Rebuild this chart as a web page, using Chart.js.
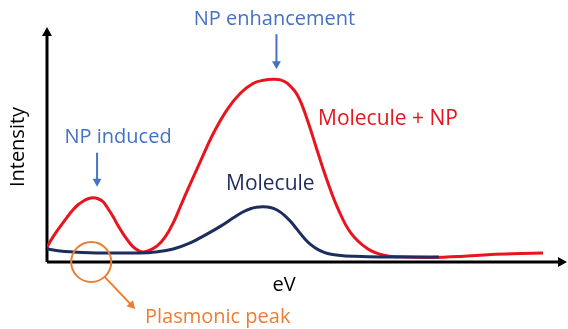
<!DOCTYPE html>
<html>
<head>
<meta charset="utf-8">
<script src="https://cdn.jsdelivr.net/npm/chart.js@4.4.1/dist/chart.umd.min.js"></script>
<style>
  html, body { margin: 0; padding: 0; background: #fff; }
  #wrap { width: 568px; height: 329px; position: relative; }
</style>
</head>
<body>
<div id="wrap"><canvas id="spectrum"></canvas></div>
<script>
// Energy axis (arbitrary units, 0-100) and intensity values for each trace
const energyNP = [0, 1.16, 2.5, 3.85, 5.01, 5.97, 6.94, 7.9, 8.86, 9.83, 10.79, 11.75, 12.72, 13.68, 14.64, 15.61, 16.57, 17.53, 18.5, 19.85, 21.19, 22.74, 24.28, 25.63, 26.97, 29.48, 31.98, 34.68, 37.19, 39.69, 41.62, 43.55, 44.89, 46.24, 48.17, 50.1, 52.02, 53.95, 55.88, 58.38, 61.66, 64.74, 68.02, 73.8, 79.58, 85.36, 91.14, 95.38];
const intensityNP = [6.41, 10.68, 14.96, 19.02, 22.22, 24.36, 25.85, 26.92, 27.35, 26.92, 25.64, 22.65, 19.23, 15.38, 11.97, 8.97, 6.41, 4.91, 4.27, 5.13, 6.84, 10.68, 16.67, 23.5, 30.34, 42.74, 54.7, 64.96, 71.79, 76.07, 77.35, 77.78, 77.48, 75.98, 70.94, 60.26, 47.01, 34.19, 23.08, 12.52, 5.6, 2.86, 2.22, 1.92, 2.35, 3.21, 3.63, 3.85];

const energyMol = [0, 2.5, 5.01, 8.29, 11.56, 17.92, 20.81, 24.28, 27.55, 30.83, 33.33, 35.84, 37.57, 39.11, 40.27, 41.62, 42.97, 44.32, 45.66, 46.82, 48.17, 49.52, 50.67, 52.22, 53.95, 56.45, 58.96, 64.16, 75.34];
const intensityMol = [5.56, 4.7, 4.27, 3.93, 3.85, 3.85, 4.27, 5.56, 8.12, 11.97, 15.17, 18.8, 21.15, 22.65, 23.29, 23.5, 23.16, 22.01, 19.87, 17.31, 13.68, 10.04, 7.48, 5.13, 3.63, 2.78, 2.44, 2.14, 2.14];

const seriesLabels = ['Molecule + NP', 'Molecule'];
const axisLabels = ['eV', 'Intensity'];
const noteLabels = ['NP enhancement', 'NP induced', 'Plasmonic peak'];

// peaks the blue arrows point at (x on the energy axis)
const enhancedPeak = 43.55;
const inducedPeak = 8.86;
const plasmonPos = 8.5;

const RED = 'rgb(232, 20, 30)';
const NAVY = '#1c2d5e';
const BLUE = '#4472c4';
const ORANGE = '#ed7d31';
const FONT = '"Open Sans", sans-serif';

const toPoints = (xs, ys) => xs.map((x, i) => ({ x: x, y: ys[i] }));

function arrowHead(ctx, x, y, angle, size) {
  ctx.save();
  ctx.translate(x, y);
  ctx.rotate(angle);
  ctx.beginPath();
  ctx.moveTo(0, 0);
  ctx.lineTo(-size, -size * 0.55);
  ctx.lineTo(-size, size * 0.55);
  ctx.closePath();
  ctx.fill();
  ctx.restore();
}

function arrow(ctx, x1, y1, x2, y2, color, width, head) {
  const a = Math.atan2(y2 - y1, x2 - x1);
  ctx.strokeStyle = color;
  ctx.fillStyle = color;
  ctx.lineWidth = width;
  ctx.beginPath();
  ctx.moveTo(x1, y1);
  ctx.lineTo(x2 - Math.cos(a) * head * 0.8, y2 - Math.sin(a) * head * 0.8);
  ctx.stroke();
  arrowHead(ctx, x2, y2, a, head);
}

// black axes with arrow tips, drawn under the curves
const axesPlugin = {
  id: 'axes',
  beforeDatasetsDraw(chart) {
    const { ctx, chartArea } = chart;
    ctx.save();
    arrow(ctx, chartArea.left, chartArea.bottom, chartArea.right, chartArea.bottom, '#000', 3, 9);
    arrow(ctx, chartArea.left, chartArea.bottom, chartArea.left, chartArea.top, '#000', 3, 9);
    ctx.restore();
  }
};

// text labels and annotation arrows
const notesPlugin = {
  id: 'notes',
  afterDatasetsDraw(chart) {
    const { ctx, chartArea } = chart;
    const xs = chart.scales.x;
    const ys = chart.scales.y;
    ctx.save();
    ctx.font = '20px ' + FONT;
    ctx.textBaseline = 'alphabetic';

    // enhancement arrow above the main peak
    const ex = xs.getPixelForValue(enhancedPeak) + 3;
    const ey = ys.getPixelForValue(intensityNP[energyNP.indexOf(enhancedPeak)]);
    arrow(ctx, ex, ey - 45, ex, ey - 10, BLUE, 2, 8);
    ctx.fillStyle = BLUE;
    ctx.textAlign = 'center';
    ctx.fillText(noteLabels[0], ex - 2, 25);

    // induced peak arrow
    const ix = xs.getPixelForValue(inducedPeak) + 4;
    const iy = ys.getPixelForValue(intensityNP[energyNP.indexOf(inducedPeak)]);
    arrow(ctx, ix, iy - 45, ix, iy - 11, BLUE, 2, 8);
    ctx.fillStyle = BLUE;
    ctx.fillText(noteLabels[1], ix + 21, iy - 55);

    // series names
    ctx.font = '21px ' + FONT;
    ctx.textAlign = 'left';
    ctx.fillStyle = RED;
    ctx.fillText(seriesLabels[0], 318, 125);
    ctx.fillStyle = NAVY;
    ctx.fillText(seriesLabels[1], 226, 190);

    // axis titles
    ctx.font = '20px ' + FONT;
    ctx.fillStyle = '#000';
    ctx.textAlign = 'center';
    ctx.fillText(axisLabels[0], 284, 291);
    ctx.save();
    ctx.translate(24, 147);
    ctx.rotate(-Math.PI / 2);
    ctx.fillText(axisLabels[1], 0, 0);
    ctx.restore();

    // plasmonic peak marker: circle on the baseline with a pointer
    const px = xs.getPixelForValue(plasmonPos);
    const py = chartArea.bottom;
    const r = 20;
    ctx.strokeStyle = ORANGE;
    ctx.lineWidth = 2;
    ctx.beginPath();
    ctx.arc(px, py, r, 0, Math.PI * 2);
    ctx.stroke();
    const a = Math.atan2(32, 29);
    arrow(ctx, px + Math.cos(a) * r, py + Math.sin(a) * r, px + 44, py + 47, ORANGE, 2, 8);
    ctx.fillStyle = ORANGE;
    ctx.textAlign = 'left';
    ctx.fillText(noteLabels[2], 145, 323);

    ctx.restore();
  }
};

const ctx = document.getElementById('spectrum').getContext('2d');
const myChart = new Chart(ctx, {
  type: 'line',
  data: {
    datasets: [
      {
        label: seriesLabels[1],
        data: toPoints(energyMol, intensityMol),
        borderColor: NAVY,
        borderWidth: 3,
        pointRadius: 0,
        tension: 0.4,
      },
      {
        label: seriesLabels[0],
        data: toPoints(energyNP, intensityNP),
        borderColor: RED,
        borderWidth: 3,
        pointRadius: 0,
        tension: 0.4,
      },
    ],
  },
  options: {
    responsive: true,
    maintainAspectRatio: false,
    animation: false,
    layout: { padding: { left: 47, right: 1, top: 27, bottom: 67 } },
    scales: {
      x: { type: 'linear', min: 0, max: 100, display: false },
      y: { min: 0, max: 100, display: false },
    },
    plugins: {
      legend: { display: false },
      tooltip: { enabled: false },
    },
  },
  plugins: [axesPlugin, notesPlugin],
});
</script>
</body>
</html>
